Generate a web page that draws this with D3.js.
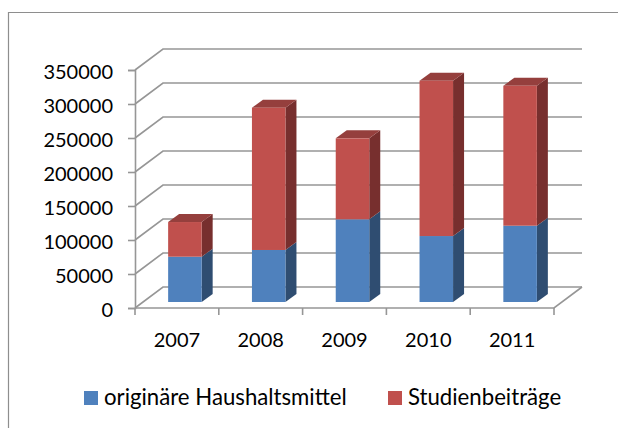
<!DOCTYPE html>
<html>
<head>
<meta charset="utf-8">
<script src="https://d3js.org/d3.v7.min.js"></script>
<style>
  body { margin: 0; background: #fff; }
  text { font-family: Lato, sans-serif; fill: #000; }
</style>
</head>
<body>
<div id="chart"></div>
<script>
// Values
const years = ["2007", "2008", "2009", "2010", "2011"];
const seriesNames = ["originäre Haushaltsmittel", "Studienbeiträge"];
const haushaltsmittel = [66600, 76500, 121600, 97000, 112200];
const studienbeitraege = [51000, 209200, 119100, 228400, 205800];
const yTicks = [0, 50000, 100000, 150000, 200000, 250000, 300000, 350000];

const width = 618, height = 428;
const colors = { front: ["#4f81bd", "#c0504d"], top: ["#3f6797", "#953f3d"], side: ["#2f4d71", "#772f2e"] };
const axisColor = "#969696";

const svg = d3.select("#chart").append("svg")
    .attr("width", width)
    .attr("height", height)
    .style("display", "block");

// Chart frame: only top and left edges are visible
svg.append("path")
    .attr("d", "M8.5,428V12.5H618")
    .attr("fill", "none")
    .attr("stroke", "#8e8e8e")
    .attr("stroke-width", 1.2);

// Scales
const x = d3.scaleBand()
    .domain(years)
    .range([135, 554])
    .paddingInner(0.6)
    .paddingOuter(0.3);

const y = d3.scaleLinear()
    .domain([0, 350000])
    .range([308, 70]);

// Depth of the 3D box, and of the bars inside it
const depth = { x: 28, y: -21 };
const barInset = { x: 8, y: -6 };
const barDepth = { x: 11, y: -8 };

// Back wall gridlines and side wall diagonals
const walls = svg.append("g")
    .attr("fill", "none")
    .attr("stroke", axisColor)
    .attr("stroke-width", 1.6);

yTicks.forEach(t => {
    walls.append("path")
        .attr("d", `M${x.range()[0]},${y(t)}l${depth.x},${depth.y}H${x.range()[1] + depth.x}`);
});

// Floor front edge and right diagonal
walls.append("path")
    .attr("d", `M${x.range()[0]},${y(0)}H${x.range()[1]}l${depth.x},${depth.y}`);

// Y axis with tick labels
svg.append("g")
    .attr("transform", `translate(${x.range()[0]},0)`)
    .call(d3.axisLeft(y).tickValues(yTicks).tickSize(7).tickPadding(15).tickFormat(d3.format("d")))
    .call(g => g.select(".domain").attr("stroke", axisColor).attr("stroke-width", 1.6))
    .call(g => g.selectAll(".tick line").attr("stroke", axisColor).attr("stroke-width", 1.6))
    .call(g => g.selectAll("text")
        .attr("dy", "8.5px")
        .style("font-family", "Lato, sans-serif")
        .style("font-size", "20px"));

// X axis ticks sit between the categories
const xEdges = d3.range(years.length + 1).map(i => x.range()[0] + i * x.step());
svg.append("g")
    .selectAll("line")
    .data(xEdges)
    .join("line")
    .attr("x1", d => d)
    .attr("x2", d => d)
    .attr("y1", y(0))
    .attr("y2", y(0) + 7)
    .attr("stroke", axisColor)
    .attr("stroke-width", 1.6);

svg.append("g")
    .selectAll("text")
    .data(years)
    .join("text")
    .attr("x", d => x(d) + x.bandwidth() / 2)
    .attr("y", 347)
    .attr("text-anchor", "middle")
    .style("font-size", "20px")
    .text(d => d);

// Stack the two series
const rows = years.map((year, i) => ({ year, a: haushaltsmittel[i], b: studienbeitraege[i] }));
const stacked = d3.stack().keys(["a", "b"])(rows);

const bars = svg.append("g");
stacked.forEach((layer, s) => {
    layer.forEach(d => {
        const x0 = x(d.data.year) + barInset.x;
        const x1 = x0 + x.bandwidth();
        const y0 = y(d[0]) + barInset.y;
        const y1 = y(d[1]) + barInset.y;
        const g = bars.append("g");

        // Right side face
        g.append("path")
            .attr("d", `M${x1},${y0}l${barDepth.x},${barDepth.y}V${y1 + barDepth.y}L${x1},${y1}Z`)
            .attr("fill", colors.side[s]);
        // Top face, only seen on the upper series
        if (s === stacked.length - 1) {
            g.append("path")
                .attr("d", `M${x0},${y1}l${barDepth.x},${barDepth.y}H${x1 + barDepth.x}L${x1},${y1}Z`)
                .attr("fill", colors.top[s]);
        }
        // Front face
        g.append("rect")
            .attr("x", x0)
            .attr("y", y1)
            .attr("width", x.bandwidth())
            .attr("height", y0 - y1)
            .attr("fill", colors.front[s]);
    });
});

// Legend
const legendX = [84, 388];
const legend = svg.append("g");
seriesNames.forEach((name, i) => {
    legend.append("rect")
        .attr("x", legendX[i])
        .attr("y", 391)
        .attr("width", 14)
        .attr("height", 14)
        .attr("fill", colors.front[i]);
    legend.append("text")
        .attr("x", legendX[i] + 20)
        .attr("y", 405)
        .style("font-size", "22.2px")
        .text(name);
});
</script>
</body>
</html>
